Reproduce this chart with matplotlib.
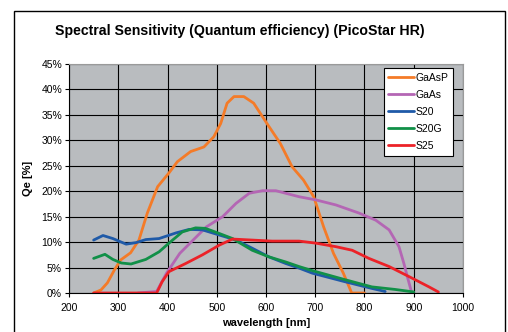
import matplotlib
matplotlib.use("Agg")
import matplotlib.pyplot as plt
from matplotlib.patches import Rectangle
from matplotlib.ticker import MultipleLocator, FuncFormatter

plt.rcParams["font.family"] = ["Liberation Sans", "DejaVu Sans"]

# values (wavelength in nm, QE in %)
gaasp_wl = [250, 265, 278, 292, 305, 325, 342, 359, 380, 403, 420, 447, 474, 494, 508,
            521, 535, 555, 575, 602, 629, 653, 676, 697, 717, 737, 757, 774, 800]
gaasp_qe = [0.0, 0.6, 2.0, 4.5, 6.5, 7.9, 10.4, 15.7, 20.9, 23.6, 25.8, 27.8, 28.7, 30.7, 33.3,
            37.3, 38.6, 38.6, 37.3, 33.3, 29.4, 24.8, 22.2, 18.9, 13.0, 7.8, 3.9, 0.0, 0.0]

gaas_wl = [340, 378, 398, 425, 452, 479, 512, 539, 566, 593, 620, 668, 701, 742, 789,
           823, 850, 870, 880, 887, 896]
gaas_qe = [0.0, 0.3, 3.9, 7.8, 10.4, 13.0, 15.0, 17.6, 19.6, 20.1, 20.1, 18.9, 18.3, 17.3, 15.7,
           14.3, 12.4, 9.1, 5.8, 3.2, 0.0]

s20_wl = [250, 269, 289, 316, 336, 356, 383, 417, 444, 471, 505, 539, 572, 606, 640,
          667, 694, 761, 815, 842]
s20_qe = [10.4, 11.3, 10.7, 9.6, 9.9, 10.5, 10.7, 11.8, 12.5, 12.4, 11.4, 10.4, 8.8, 7.1, 5.8,
          4.9, 3.9, 2.2, 0.9, 0.3]

s20g_wl = [250, 273, 289, 306, 326, 356, 383, 403, 430, 457, 477, 505, 532, 572, 606,
           640, 667, 694, 761, 815, 862, 900]
s20g_qe = [6.8, 7.6, 6.6, 5.9, 5.7, 6.6, 8.1, 9.8, 12.0, 12.8, 12.7, 11.7, 10.7, 8.4, 7.1,
           6.1, 5.2, 4.4, 2.6, 1.2, 0.7, 0.2]

s25_wl = [250, 378, 389, 403, 437, 471, 505, 532, 572, 612, 667, 701, 742, 775, 809,
          850, 897, 931, 950]
s25_qe = [0.0, 0.0, 2.2, 4.2, 5.8, 7.5, 9.4, 10.6, 10.4, 10.2, 10.2, 9.8, 9.1, 8.4, 6.8,
          5.2, 2.9, 1.2, 0.2]

series = [
    ("GaAsP", gaasp_wl, gaasp_qe, "#f47b28"),
    ("GaAs", gaas_wl, gaas_qe, "#b466b4"),
    ("S20", s20_wl, s20_qe, "#1f5aa8"),
    ("S20G", s20g_wl, s20g_qe, "#119048"),
    ("S25", s25_wl, s25_qe, "#ec2228"),
]

fig = plt.figure(figsize=(5.08, 3.32), dpi=100)
ax = fig.add_axes([69 / 508, 1 - 293 / 332, (463 - 69) / 508, (293 - 64) / 332])
ax.set_facecolor("#b9bcbf")

for name, wl, qe, color in series:
    ax.plot(wl, qe, color=color, lw=2.0, label=name,
            solid_capstyle="round", solid_joinstyle="round")

ax.set_xlim(200, 1000)
ax.set_ylim(0, 45)
ax.xaxis.set_major_locator(MultipleLocator(100))
ax.yaxis.set_major_locator(MultipleLocator(5))
ax.yaxis.set_major_formatter(FuncFormatter(lambda v, p: f"{v:.0f}%"))
ax.grid(True, color="black", lw=0.8)
ax.set_axisbelow(True)
ax.tick_params(direction="out", length=3, width=0.8, labelsize=7.5)
ax.tick_params(axis="x", pad=4)
ax.tick_params(axis="y", pad=2)
for side in ("top", "right"):
    ax.spines[side].set_color("#9a9a9a")
for side in ("left", "bottom"):
    ax.spines[side].set_color("black")

ax.set_xlabel("wavelength [nm]", fontsize=8, fontweight="bold", labelpad=4)
ax.set_ylabel("Qe [%]", fontsize=8, fontweight="bold", labelpad=6)

leg = ax.legend(loc="upper right", fontsize=7.5, frameon=True, fancybox=False,
                edgecolor="black", framealpha=1, handlelength=2.5, handletextpad=0.1,
                labelspacing=0.68, borderpad=0.45, borderaxespad=0)
leg.get_frame().set_linewidth(0.8)
leg.set_bbox_to_anchor(((453 - 69) / 394, (293 - 68) / 229), transform=ax.transAxes)

fig.text(240 / 508, 1 - 31 / 332, "Spectral Sensitivity (Quantum efficiency) (PicoStar HR)",
         ha="center", va="center", fontsize=10.2, fontweight="bold")

fig.patches.append(Rectangle((14 / 508, -0.1), (505 - 14) / 508, 1.1 - 11 / 332,
                             transform=fig.transFigure, fill=False, edgecolor="black", lw=1))

fig.savefig("out.png", dpi=100)
